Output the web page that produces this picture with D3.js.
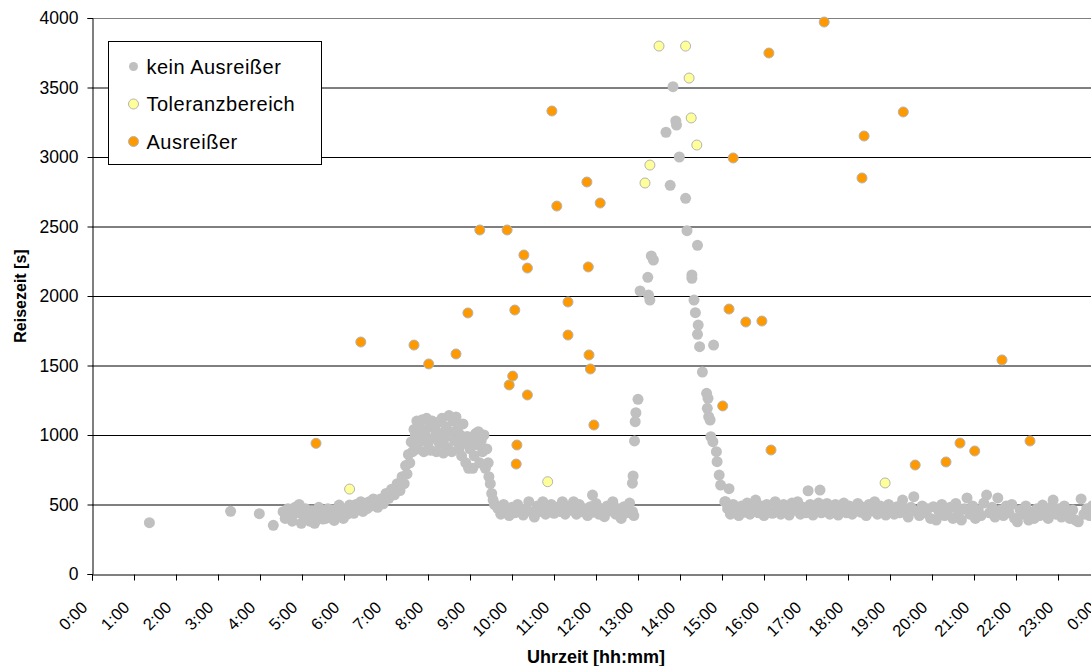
<!DOCTYPE html>
<html>
<head>
<meta charset="utf-8">
<script src="https://d3js.org/d3.v7.min.js"></script>
<style>
  body { margin: 0; background: #fff; }
  text { font-family: Arial, "Liberation Sans", sans-serif; fill: #000; }
</style>
</head>
<body>
<div id="chart"></div>
<script>
// travel time (s) vs. time of day (minutes after midnight)

const SERIES_NAMES = ["kein Ausreißer", "Toleranzbereich", "Ausreißer"];
const SERIES_FILL = ["#c0c0c0", "#ffff99", "#ff9900"];

const Y_TICKS = [0, 500, 1000, 1500, 2000, 2500, 3000, 3500, 4000];
const X_TICKS = d3.range(0, 1441, 60);
const X_TICK_LABELS = [
  "0:00","1:00","2:00","3:00","4:00","5:00","6:00","7:00","8:00","9:00","10:00","11:00",
  "12:00","13:00","14:00","15:00","16:00","17:00","18:00","19:00","20:00","21:00","22:00","23:00","0:00"
];

// [minute, seconds]
const GREY_POINTS = [
  [82,369],[198,451],[239,434],[259,350],
  [273,448],[276,400],[280,470],[283,430],[286,380],[290,480],[293,440],[296,500],[299,365],[302,420],
  [305,470],[308,440],[311,380],[314,455],[318,365],[321,420],[324,480],[327,440],[330,395],[334,400],
  [337,470],[340,430],[343,460],[346,385],[350,420],[353,496],[356,450],[359,400],[362,470],[365,430],
  [368,496],[371,455],[374,437],[377,500],[380,470],[384,520],[387,450],[390,500],[393,470],[396,520],
  [399,490],[402,540],
  [404,520],[408,480],[412,540],[416,505],[420,580],[424,545],[428,610],[432,570],[436,650],[440,600],
  [443,700],[446,650],[448,780],[450,720],[452,860],[454,800],[456,950],[458,880],[460,1040],[462,980],[464,1100],
  [462,1000],[465,900],[466,1090],[468,950],[470,1040],[472,1110],[474,880],[476,1000],[478,1120],[480,940],
  [482,1060],[484,890],[486,1100],[488,980],[490,1040],[492,880],[494,1090],[496,940],[498,1010],[500,1120],
  [502,870],[504,980],[506,1060],[508,910],[510,1140],[512,1020],[514,880],[516,1100],[518,960],[520,1130],
  [522,1040],[524,900],[526,1000],[528,850],[530,1080],[532,940],[534,800],[536,990],[538,760],[540,900],
  [542,964],[544,760],[546,850],[548,1010],[550,930],[552,1024],[554,800],[556,960],[558,880],[560,1000],
  [562,760],[564,900],[566,800],[567,700],[569,650],[571,580],[573,532],[575,500],
  [580,470],[584,430],[588,500],[592,455],[596,420],[600,480],[604,440],[608,500],[612,460],[616,424],
  [620,470],[624,520],[628,445],[632,410],[636,490],[640,450],[644,520],[648,430],[652,470],[656,500],
  [660,437],[664,480],[668,450],[672,520],[676,430],[680,490],[684,460],[688,520],[692,430],[696,500],
  [700,448],[704,470],[708,420],[712,484],[715,568],[716,445],[720,508],[724,430],[728,470],[732,412],
  [736,490],[740,455],[744,520],[748,430],[752,470],[756,400],[760,484],[764,440],[768,510],[772,450],[774,420],
  [772,653],[773,705],[775,957],[776,1096],[777,1160],[780,1257],
  [783,2036],[794,2134],[795,2007],[797,1971],[799,2288],[802,2259],[820,3178],[826,2796],[830,3506],
  [834,3259],[835,3230],[839,3000],[848,2703],[850,2470],[857,2151],[857,2127],[860,1971],[862,1880],
  [865,2365],[866,1791],[865,1724],[868,1635],[888,1647],[872,1453],[878,1300],[880,1264],[879,1192],
  [881,1132],[883,1108],[884,988],[887,952],[892,880],[893,808],[896,712],[898,640],[910,614],[904,520],
  [905,520],[908,470],[912,430],[916,500],[920,450],[924,420],[928,490],[932,445],[936,510],[940,430],
  [944,475],[948,532],[952,440],[956,490],[960,420],[964,500],[968,455],[972,437],[976,520],[980,470],
  [984,430],[988,500],[992,450],[996,424],[1000,510],[1004,460],[1008,520],[1012,430],[1016,480],[1020,440],
  [1023,599],[1026,500],[1030,424],[1034,470],[1038,510],[1040,604],[1042,440],[1046,490],[1050,508],[1054,430],
  [1058,475],[1062,500],[1066,424],[1070,460],[1074,510],[1078,440],[1082,490],[1086,430],[1090,470],[1094,508],
  [1098,445],[1102,480],[1106,420],[1110,500],[1114,455],[1118,520],[1122,430],[1126,490],[1130,450],[1134,424],
  [1138,500],[1142,470],[1146,430],[1150,484],[1154,440],[1158,532],[1162,470],[1166,410],[1170,480],[1174,556],
  [1178,450],[1182,420],[1186,490],[1190,440],[1194,470],[1198,400],[1202,484],[1206,388],[1210,450],[1214,500],
  [1218,420],[1222,448],[1226,480],[1230,400],[1234,508],[1238,440],[1242,388],[1246,470],[1250,547],[1254,430],
  [1258,490],[1262,400],[1266,460],[1270,420],[1274,510],[1278,568],[1282,440],[1286,480],[1290,410],[1294,547],
  [1298,460],[1302,420],[1306,490],[1310,440],[1314,500],[1318,400],[1322,376],[1326,460],[1330,430],[1334,490],
  [1338,388],[1342,445],[1346,400],[1350,470],[1354,420],[1358,496],[1362,440],[1366,400],[1370,480],[1373,532],
  [1377,430],[1381,470],[1385,410],[1389,490],[1393,445],[1397,400],[1401,460],[1405,388],[1409,376],[1413,540],
  [1417,430],[1421,470],[1425,420],[1429,490],[1433,440],[1437,400]
];

const TOLERANCE_POINTS = [
  [368,611],[651,664],[790,2813],[797,2942],[810,3798],[848,3798],[853,3568],[856,3281],[864,3086],[1133,655]
];

const OUTLIER_POINTS = [
  [320,940],[384,1669],[460,1647],[481,1511],[520,1583],[537,1878],[554,2475],[593,2475],[596,1360],
  [601,1424],[604,1899],[607,928],[606,791],[617,2295],[622,2201],[622,1288],[657,3331],[664,2647],
  [680,1957],[680,1719],[707,2820],[709,2209],[710,1576],[712,1475],[717,1072],[726,2669],[916,2993],
  [910,1906],[901,1209],[934,1813],[957,1820],[967,3748],[970,892],[1046,3971],[1103,3151],[1100,2849],
  [1159,3324],[1176,784],[1220,806],[1240,942],[1261,885],[1300,1540],[1340,957]
];

const width = 1091, height = 666;
const margin = { top: 18, left: 92, bottom: 92 };
const plotRight = 1100;

const svg = d3.select("#chart").append("svg")
  .attr("width", width)
  .attr("height", height);

const x = d3.scaleLinear().domain([0, 1440]).range([margin.left, plotRight]);
const y = d3.scaleLinear().domain([0, 4000]).range([height - margin.bottom, margin.top]);

// gridlines
svg.append("g")
  .selectAll("line")
  .data(Y_TICKS.filter(d => d > 0))
  .join("line")
  .attr("x1", margin.left)
  .attr("x2", plotRight)
  .attr("y1", d => y(d) + 0.5)
  .attr("y2", d => y(d) + 0.5)
  .attr("stroke", d => d === 4000 ? "#808080" : "#000")
  .attr("stroke-width", 1);

// y axis
const yAxis = svg.append("g")
  .attr("transform", `translate(${margin.left + 0.5},0)`)
  .call(d3.axisLeft(y).tickValues(Y_TICKS).tickSize(5).tickPadding(9).tickFormat(d3.format("d")));
yAxis.select(".domain").attr("stroke", "#000");
yAxis.selectAll(".tick line").attr("stroke", "#000");
yAxis.selectAll(".tick text")
  .style("font-size", "17.5px")
  .style("font-family", "Arial, 'Liberation Sans', sans-serif")
  .attr("fill", "#000");

// x axis
const xAxis = svg.append("g")
  .attr("transform", `translate(0,${y(0) + 0.5})`)
  .call(d3.axisBottom(x).tickValues(X_TICKS).tickSize(6).tickFormat((d, i) => X_TICK_LABELS[i]));
xAxis.select(".domain").attr("stroke", "#000");
xAxis.selectAll(".tick line").attr("stroke", "#000");
xAxis.selectAll(".tick text")
  .style("font-size", "16.5px")
  .style("font-family", "Arial, 'Liberation Sans', sans-serif")
  .attr("fill", "#000")
  .attr("text-anchor", "end")
  .attr("dy", null)
  .attr("y", 0)
  .attr("transform", "translate(-4,34) rotate(-45)");

// axis titles
svg.append("text")
  .attr("transform", `translate(26,${y(2000)}) rotate(-90)`)
  .attr("text-anchor", "middle")
  .style("font-size", "16px")
  .style("font-weight", "bold")
  .text("Reisezeit [s]");

svg.append("text")
  .attr("x", 596)
  .attr("y", 663)
  .attr("text-anchor", "middle")
  .style("font-size", "18px")
  .style("font-weight", "bold")
  .text("Uhrzeit [hh:mm]");

// points
const plot = svg.append("g");

plot.selectAll("circle.grey")
  .data(GREY_POINTS)
  .join("circle")
  .attr("class", "grey")
  .attr("cx", d => x(d[0]))
  .attr("cy", d => y(d[1]))
  .attr("r", 5.5)
  .attr("fill", SERIES_FILL[0]);

plot.selectAll("circle.tol")
  .data(TOLERANCE_POINTS)
  .join("circle")
  .attr("class", "tol")
  .attr("cx", d => x(d[0]))
  .attr("cy", d => y(d[1]))
  .attr("r", 5)
  .attr("fill", SERIES_FILL[1])
  .attr("stroke", "#b4b4b4")
  .attr("stroke-width", 1);

plot.selectAll("circle.out")
  .data(OUTLIER_POINTS)
  .join("circle")
  .attr("class", "out")
  .attr("cx", d => x(d[0]))
  .attr("cy", d => y(d[1]))
  .attr("r", 5)
  .attr("fill", SERIES_FILL[2])
  .attr("stroke", "#b4b4b4")
  .attr("stroke-width", 1);

// legend
const legend = svg.append("g").attr("transform", "translate(108.5,41.5)");
legend.append("rect")
  .attr("width", 213)
  .attr("height", 123)
  .attr("fill", "#fff")
  .attr("stroke", "#000");

const rows = legend.selectAll("g.row")
  .data(SERIES_NAMES)
  .join("g")
  .attr("class", "row")
  .attr("transform", (d, i) => `translate(0,${25 + i * 37.5})`);

rows.append("circle")
  .attr("cx", 25)
  .attr("cy", 0)
  .attr("r", (d, i) => i === 0 ? 4.5 : 5)
  .attr("fill", (d, i) => SERIES_FILL[i])
  .attr("stroke", (d, i) => i === 0 ? "none" : "#b4b4b4");

rows.append("text")
  .attr("x", 38)
  .attr("y", 7)
  .style("font-size", "20px")
  .style("letter-spacing", "0.5px")
  .text(d => d);
</script>
</body>
</html>
